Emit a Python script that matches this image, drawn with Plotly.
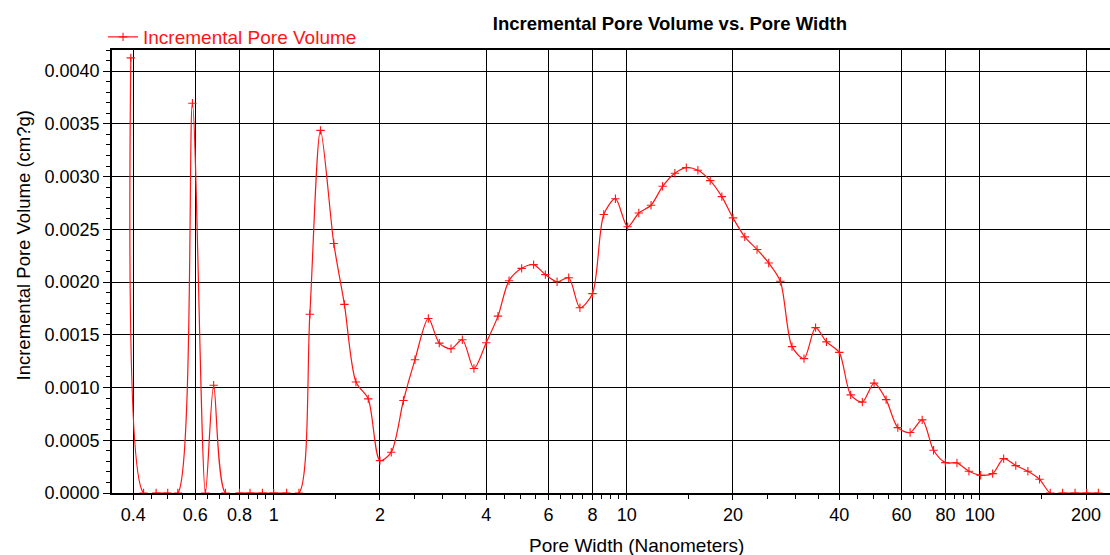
import plotly.graph_objects as go

# ---- data ----
pore_width_nm = [
    0.3938, 0.428, 0.4645, 0.501, 0.535, 0.5886, 0.6406, 0.676, 0.730, 0.800,
    0.857, 0.929, 1.000, 1.088, 1.179, 1.266, 1.357, 1.480, 1.586, 1.710,
    1.853, 2.000, 2.153, 2.331, 2.513, 2.742, 2.945, 3.179, 3.423, 3.692,
    4.000, 4.319, 4.641, 5.040, 5.449, 5.883, 6.350, 6.850, 7.370, 7.998,
    8.61, 9.29, 10.06, 10.82, 11.72, 12.64, 13.69, 14.75, 15.91, 17.24,
    18.60, 20.0, 21.6, 23.4, 25.25, 27.24, 29.39, 31.78, 34.28, 36.8,
    40.0, 43.1, 46.5, 50.2, 54.3, 58.6, 63.5, 68.7, 74.0, 79.9,
    86.2, 93.2, 100.6, 108.8, 116.9, 126.5, 136.9, 147.7, 158.4, 171.7,
    186.2, 200.9, 216.8,
]
incremental_pore_volume = [
    0.004125, 0.0, 0.0, 0.0, 0.0, 0.003695, 0.0, 0.001021, 0.0, 0.0,
    0.0, 0.0, 0.0, 0.0, 0.0, 0.001695, 0.003438, 0.002366, 0.001788, 0.001053,
    0.000892, 0.000307, 0.000387, 0.000877, 0.001264, 0.001655, 0.001421, 0.001367, 0.001453, 0.001180,
    0.001424, 0.001677, 0.002013, 0.002130, 0.002165, 0.002070, 0.002003, 0.002041, 0.001757, 0.001890,
    0.002640, 0.002790, 0.002524, 0.002655, 0.002728, 0.002908, 0.003032, 0.003085, 0.003060, 0.002962,
    0.002810, 0.002608, 0.002428, 0.002308, 0.002181, 0.002008, 0.001388, 0.001274, 0.001568, 0.001433,
    0.001333, 0.000930, 0.000862, 0.001042, 0.000885, 0.000620, 0.000573, 0.000693, 0.000405, 0.000288,
    0.000285, 0.000206, 0.000168, 0.000184, 0.000326, 0.000260, 0.000206, 0.000130, 0.0, 0.0,
    0.0, 0.0, 0.0,
]

x_tick_values = [0.4, 0.6, 0.8, 1, 2, 4, 6, 8, 10, 20, 40, 60, 80, 100, 200]
x_tick_labels = ["0.4", "0.6", "0.8", "1", "2", "4", "6", "8", "10", "20", "40", "60", "80", "100", "200"]
x_minor_ticks = [0.45, 0.5, 0.55, 0.65, 0.7, 0.75, 0.85, 0.9, 0.95, 1.5, 2.5, 3, 3.5,
                 4.5, 5, 5.5, 6.5, 7, 7.5, 8.5, 9, 9.5, 15, 25, 30, 35, 45, 50, 55,
                 65, 70, 75, 85, 90, 95, 150]
y_tick_values = [0.0, 0.0005, 0.0010, 0.0015, 0.0020, 0.0025, 0.0030, 0.0035, 0.0040]
y_tick_labels = ["0.0000", "0.0005", "0.0010", "0.0015", "0.0020", "0.0025", "0.0030", "0.0035", "0.0040"]

chart_title = "Incremental Pore Volume vs. Pore Width"
x_title = "Pore Width (Nanometers)"
y_title = "Incremental Pore Volume (cm?g)"
series_name = "Incremental Pore Volume"

RED = "rgb(255,20,20)"
FONT = "Liberation Sans, Arial, sans-serif"

fig = go.Figure()
fig.add_trace(go.Scatter(
    x=pore_width_nm,
    y=incremental_pore_volume,
    mode="lines+markers",
    name=series_name,
    line=dict(color=RED, width=1.2, shape="spline", smoothing=0.8),
    marker=dict(symbol="cross-thin", size=6, color=RED, line=dict(color=RED, width=1.1)),
))

fig.update_layout(
    width=1110, height=555,
    margin=dict(l=112, r=0, t=50, b=62, autoexpand=False),
    paper_bgcolor="white", plot_bgcolor="white",
    font=dict(family=FONT, size=18, color="black"),
    title=dict(text=chart_title,
               font=dict(family=FONT, size=18.5, color="black", weight="bold"),
               x=0.559, xanchor="center", xref="paper", y=0.958, yanchor="middle"),
    showlegend=True,
    legend=dict(x=-0.009, y=1.0293, xanchor="left", yanchor="middle",
                font=dict(family=FONT, size=19, color=RED),
                bgcolor="rgba(0,0,0,0)", borderwidth=0, itemwidth=30,
                tracegroupgap=0),
    annotations=[
        dict(text=x_title, xref="paper", yref="paper", x=0.5258, y=-0.1174,
             xanchor="center", yanchor="middle", showarrow=False,
             font=dict(family=FONT, size=19, color="black")),
        dict(text=y_title, xref="paper", yref="paper", x=-0.0882, y=0.5587,
             xanchor="center", yanchor="middle", textangle=-90, showarrow=False,
             font=dict(family=FONT, size=18.5, color="black")),
    ],
)

fig.update_xaxes(
    type="log",
    range=[-0.458, 2.369],
    tickmode="array", tickvals=x_tick_values, ticktext=x_tick_labels,
    ticks="outside", ticklen=5, tickwidth=1, tickcolor="black",
    showgrid=True, gridcolor="black", gridwidth=1.4,
    showline=True, linecolor="black", linewidth=1.5, mirror=True,
    zeroline=False,
    tickfont=dict(family=FONT, size=18, color="black"),
    minor=dict(tickvals=x_minor_ticks, ticks="outside", ticklen=4,
               tickcolor="black", tickwidth=1, showgrid=False),
)

fig.update_yaxes(
    range=[0, 0.0042],
    tickmode="array", tickvals=y_tick_values, ticktext=y_tick_labels,
    ticks="outside", ticklen=7, tickwidth=1, tickcolor="black",
    showgrid=True, gridcolor="black", gridwidth=1.4,
    showline=True, linecolor="black", linewidth=1.5,
    zeroline=False,
    tickfont=dict(family=FONT, size=18, color="black"),
    minor=dict(dtick=0.0001, tick0=0, ticks="outside", ticklen=4,
               tickcolor="black", tickwidth=1, showgrid=False),
)

fig.write_html("out.html")
